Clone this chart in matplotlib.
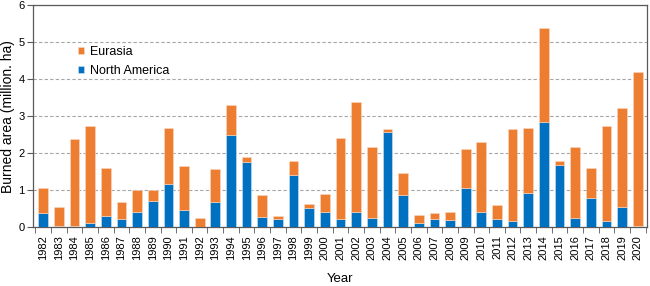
import numpy as np
import matplotlib.pyplot as plt

plt.rcParams['font.family'] = ['Liberation Sans', 'DejaVu Sans']

years = list(range(1982, 2021))
# totals (top of stacked bar) and North America share, million ha
total = [1.07, 0.55, 2.38, 2.73, 1.59, 0.68, 0.99, 0.99, 2.67, 1.64,
         0.25, 1.58, 3.30, 1.90, 0.86, 0.30, 1.80, 0.63, 0.89, 2.42,
         3.39, 2.17, 2.66, 1.45, 0.33, 0.37, 0.42, 2.12, 2.29, 0.61,
         2.66, 2.68, 5.39, 1.80, 2.16, 1.59, 2.73, 3.22, 4.20]
north_america = [0.39, 0.04, 0.03, 0.10, 0.30, 0.23, 0.42, 0.70, 1.17, 0.47,
                 0.00, 0.68, 2.48, 1.75, 0.28, 0.22, 1.41, 0.52, 0.41, 0.23,
                 0.41, 0.25, 2.58, 0.86, 0.11, 0.23, 0.20, 1.05, 0.42, 0.23,
                 0.17, 0.91, 2.85, 1.68, 0.25, 0.79, 0.17, 0.55, 0.03]
eurasia = [t - n for t, n in zip(total, north_america)]

fig = plt.figure(figsize=(6.5, 2.86), dpi=100)
ax = fig.add_axes([0.051, 0.206, 0.944, 0.776])

x = np.arange(len(years))
ax.bar(x, north_america, width=0.62, color='#0070C0', edgecolor='#cfe3f5',
       linewidth=0.4, label='North America', zorder=3)
ax.bar(x, eurasia, width=0.62, bottom=north_america, color='#ED7D31',
       edgecolor='#fbd9c2', linewidth=0.4, label='Eurasia', zorder=3)

ax.set_xlim(-0.64, len(years) - 1 + 0.57)
ax.set_ylim(0, 6)
ax.set_yticks(range(0, 7))
ax.yaxis.grid(True, linestyle=(0, (3, 2)), color='#a6a6a6', linewidth=0.8, zorder=0)

ax.set_xticks(x)
ax.set_xticklabels([str(y) for y in years], rotation=90, fontsize=8)
ax.set_xticks(np.arange(-0.5, len(years)), minor=True)
ax.tick_params(axis='x', which='major', length=0, pad=6)
ax.tick_params(axis='x', which='minor', length=4, color='#595959', direction='out')
ax.tick_params(axis='y', labelsize=8, length=4, color='#595959', pad=2)

for s in ax.spines.values():
    s.set_color('#595959')
    s.set_linewidth(0.9)

ax.set_xlabel('Year', fontsize=9.5, labelpad=9)
ax.set_ylabel('Burned area (million. ha)', fontsize=10)
ax.yaxis.set_label_coords(-0.030, 0.5)

handles, labels = ax.get_legend_handles_labels()
ax.legend(handles[::-1], labels[::-1], loc='upper left', bbox_to_anchor=(0.073, 0.816),
          borderaxespad=0, borderpad=0,
          frameon=False, fontsize=9, handlelength=0.45, handleheight=0.45,
          handletextpad=0.5, labelspacing=0.55)

fig.savefig('out.png', dpi=100)
